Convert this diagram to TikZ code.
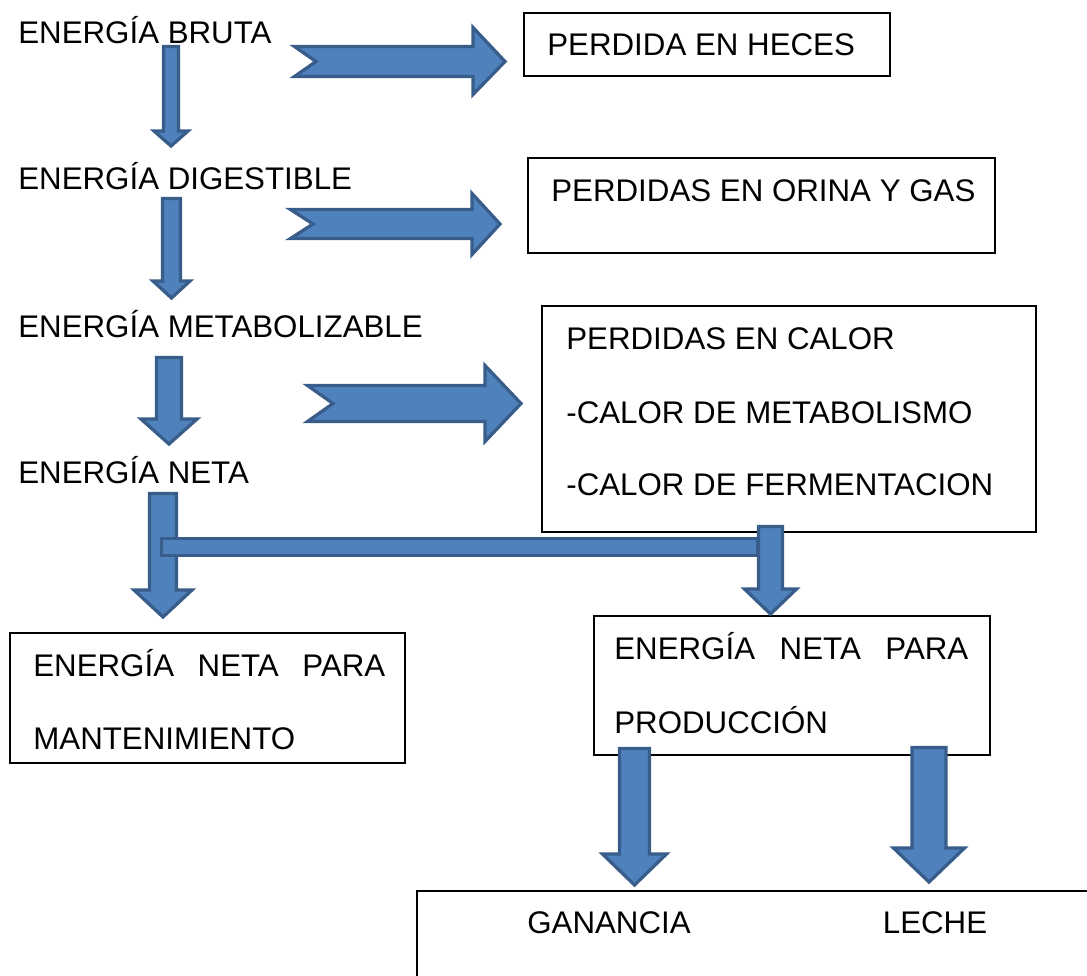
\documentclass[tikz,border=0pt]{standalone}
\usepackage{fontspec}
\setmainfont{Liberation Sans}
\usetikzlibrary{fit}
\definecolor{flechafill}{HTML}{4F81BD}
\definecolor{flechaborde}{HTML}{385D8A}
\tikzset{
  bloque/.style={fill=flechafill, draw=flechaborde, line width=0.065cm, line join=miter},
  caja/.style={draw=black, line width=0.035cm, inner sep=0pt},
  texto/.style={anchor=base west, inner sep=0pt},
  centrado/.style={anchor=base, inner sep=0pt},
}
\begin{document}
\begin{tikzpicture}[x=0.02cm, y=-0.02cm]
\useasboundingbox (0,0) rectangle (1087,975);
\clip (0,0) rectangle (1087,975);
{\fontsize{17.8}{21}\selectfont

% Energy levels on the left
\node[texto] (bruta) at (18,43) {ENERGÍA BRUTA};
\node[texto] (digestible) at (18,189) {ENERGÍA DIGESTIBLE};
\node[texto] (metabolizable) at (18,337) {ENERGÍA METABOLIZABLE};
\node[texto] (neta) at (18,483) {ENERGÍA NETA};

% Boxes of losses
\node[caja, fit={(524,13) (890,76)}] (heces) {};
\node[texto] (hecestxt) at (547,55) {PERDIDA EN HECES};
\node[caja, fit={(528,158) (995,253)}] (orina) {};
\node[texto] (orinatxt) at (551,201) {PERDIDAS EN ORINA Y GAS};
\node[caja, fit={(542,306) (1036,532)}] (calor) {};
\node[texto] (calor1) at (566,349) {PERDIDAS EN CALOR};
\node[texto] (calor2) at (566,423) {-CALOR DE METABOLISMO};
\node[texto] (calor3) at (566,495) {-CALOR DE FERMENTACION};

% Boxes of net energy
\node[caja, fit={(10,633) (405,763)}] (mant) {};
\node[texto] (mant1) at (33,676) {\hbox to 7.04cm{ENERGÍA\hfill NETA\hfill PARA}};
\node[texto] (mant2) at (33,749) {MANTENIMIENTO};
\node[caja, fit={(594,616) (990,755)}] (prod) {};
\node[texto] (prod1) at (614,659) {\hbox to 7.08cm{ENERGÍA\hfill NETA\hfill PARA}};
\node[texto] (prod2) at (614,733) {PRODUCCIÓN};
\node[caja, fit={(417,891) (1100,990)}] (destino) {};
\node[centrado] (ganancia) at (609,933) {GANANCIA};
\node[centrado] (leche) at (935,933) {LECHE};

% Drawing right arrows
\draw[bloque] (294.5,46.5) -- (473,46.5) -- (473,27.5) -- (505,61.5) -- (473,94.5) -- (473,76.5) -- (294.5,76.5) -- (316,61.5) -- cycle;
\draw[bloque] (290.5,209.5) -- (472,209.5) -- (472,193.5) -- (500,224) -- (472,254.5) -- (472,238.5) -- (290.5,238.5) -- (313,224) -- cycle;
\draw[bloque] (307.5,385.5) -- (485,385.5) -- (485,365.5) -- (521,403.5) -- (485,441.5) -- (485,421.5) -- (307.5,421.5) -- (333,403.5) -- cycle;

% Drawing down arrows
\draw[bloque] (163.5,46.5) -- (178.5,46.5) -- (178.5,131) -- (188,131) -- (171,146) -- (154,131) -- (163.5,131) -- cycle;
\draw[bloque] (162.5,198.5) -- (180.5,198.5) -- (180.5,281) -- (190,281) -- (171.5,298) -- (153,281) -- (162.5,281) -- cycle;
\draw[bloque] (156.5,357.5) -- (181.5,357.5) -- (181.5,419) -- (197,419) -- (169,444) -- (141,419) -- (156.5,419) -- cycle;

% Drawing split of net energy
\draw[bloque] (149.5,493.5) -- (176.5,493.5) -- (176.5,590) -- (192,590) -- (163,617) -- (134,590) -- (149.5,590) -- cycle;
\draw[bloque] (161.5,538.5) rectangle (758,555.5);
\draw[bloque] (758.5,526.5) -- (782.5,526.5) -- (782.5,589) -- (796.5,589) -- (770.5,614) -- (744.5,589) -- (758.5,589) -- cycle;

% Drawing arrows to gain and milk
\draw[bloque] (619.5,748.5) -- (649.5,748.5) -- (649.5,854) -- (666.5,854) -- (634.5,885) -- (602.5,854) -- (619.5,854) -- cycle;
\draw[bloque] (912,747.5) -- (946,747.5) -- (946,848) -- (964.5,848) -- (929,882) -- (893.5,848) -- (912,848) -- cycle;
}
\end{tikzpicture}
\end{document}
